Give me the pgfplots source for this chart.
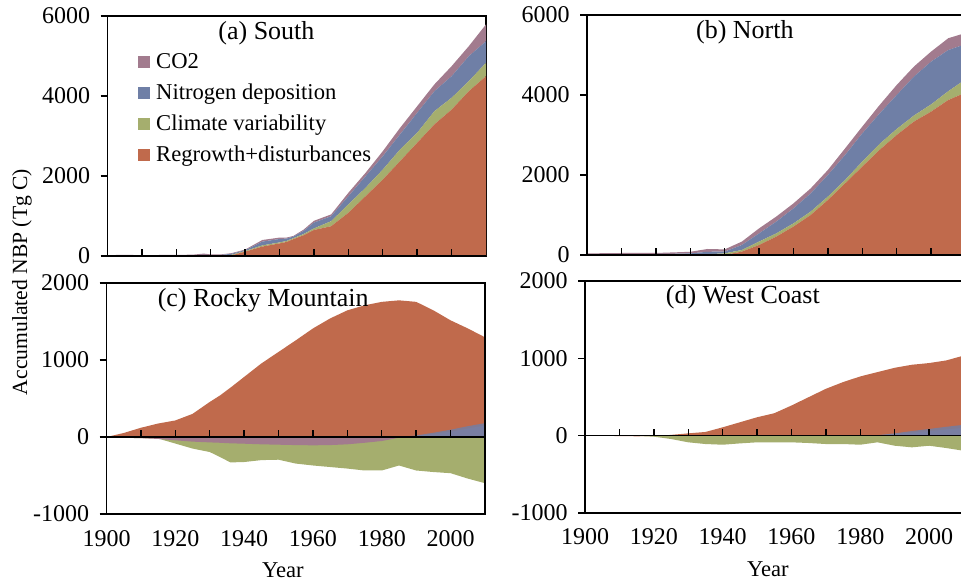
\documentclass[border=0pt]{standalone}
\usepackage{fontspec}
\setmainfont{Liberation Serif}
\usepackage{pgfplots}
\usepackage{pgfplotstable}
\pgfplotsset{compat=1.18}

\definecolor{cR}{RGB}{192,106,76}
\definecolor{cC}{RGB}{165,174,110}
\definecolor{cN}{RGB}{111,127,166}
\definecolor{cCO}{RGB}{162,123,142}

% components (Tg C): regrowth, climate, N deposition, CO2
\pgfplotstableread{
year R C N CO2
1900 0 5 5 10
1905 0 10 5 15
1910 0 5 5 10
1915 0 5 5 15
1920 0 10 5 10
1925 0 10 10 15
1928 0 15 15 30
1930 0 10 10 20
1933 0 10 15 15
1936 15 15 25 15
1940 110 15 20 15
1945 235 30 95 40
1950 315 25 85 35
1952 350 25 60 25
1954 420 25 40 15
1957 520 30 80 30
1960 650 40 145 45
1965 745 125 125 45
1970 1080 210 205 85
1975 1495 210 290 85
1980 1910 250 335 125
1985 2370 290 380 160
1990 2830 250 500 165
1995 3290 330 500 170
2000 3660 295 540 250
2005 4120 250 625 250
2010 4495 335 540 420
}\tabA

\pgfplotstableread{
year R C N CO2
1900 0 10 10 20
1910 0 10 10 30
1920 0 10 15 25
1925 0 10 20 35
1930 0 15 25 40
1935 0 20 60 70
1940 0 40 45 55
1945 85 40 125 85
1950 250 85 205 125
1955 460 80 295 125
1960 710 80 375 125
1965 1000 85 455 125
1970 1375 85 540 125
1975 1790 85 625 165
1980 2210 125 705 170
1985 2625 150 760 210
1990 3000 150 850 250
1995 3335 150 975 250
2000 3585 180 1070 250
2005 3875 220 1030 295
2010 4060 330 880 280
}\tabB

\pgfplotstableread{
year R C N CO2
1900 0 0 0 0
1905 52 -10 0 -10
1910 120 -15 0 -15
1915 175 -20 0 -25
1920 215 -85 0 -43
1925 300 -150 0 -60
1930 455 -195 0 -70
1933 540 -260 0 -75
1936 640 -330 0 -82
1940 780 -325 0 -87
1945 955 -300 0 -95
1950 1105 -295 0 -100
1955 1255 -345 0 -105
1960 1410 -370 0 -108
1965 1540 -390 0 -105
1970 1645 -410 0 -95
1975 1710 -435 0 -75
1980 1755 -435 0 -52
1985 1775 -370 0 -9
1990 1755 -435 20 15
1995 1645 -455 55 40
2000 1515 -470 95 70
2005 1410 -540 140 110
2010 1295 -600 180 150
}\tabC

\pgfplotstableread{
year R C N CO2
1900 0 0 0 0
1910 -5 0 0 0
1915 -8 -3 0 0
1920 -5 -13 0 0
1925 10 -43 0 0
1930 30 -86 0 0
1935 48 -108 0 0
1940 108 -117 0 0
1945 173 -100 0 0
1950 238 -86 0 0
1955 290 -86 0 0
1960 390 -86 0 0
1965 498 -95 0 0
1970 606 -108 0 0
1975 693 -108 0 0
1980 766 -117 0 0
1985 822 -86 5 5
1990 878 -130 30 20
1995 917 -151 60 40
2000 939 -130 87 60
2005 973 -160 115 80
2010 1035 -195 140 100
}\tabD

\tikzset{panelframe/.style={line width=0.7pt}}

\pgfplotsset{
  panel/.style={
    scale only axis, width=189.25pt,
    xmin=1900, xmax=2010,
    axis x line*=middle, axis y line*=left,
    axis line style={-, line width=0.7pt, black},
    axis on top, clip=false,
    hide obscured x ticks=false, hide obscured y ticks=false,
    tick align=center,
    major tick length=3.4pt, minor tick length=3.4pt,
    xtick={1900,1920,...,2000}, minor xtick={1910,1930,...,1990},
    every tick/.style={black, line width=0.7pt},
    every major x tick/.append style={yshift=1.7pt},
    every minor x tick/.append style={yshift=1.7pt},
    every major y tick/.append style={xshift=-1.7pt},
    /pgf/number format/assume math mode=true,
    /pgf/number format/1000 sep={},
    tick label style={font=\fontsize{12}{14}\selectfont},
    yticklabel style={xshift=-3pt},
    title style={font=\fontsize{13}{15}\selectfont},
  },
}

\begin{document}
\fontsize{11.3}{13.5}\selectfont
\begin{tikzpicture}
\path[use as bounding box] (0pt,0pt) rectangle (480.5pt,291.5pt);

\node[rotate=90, font=\fontsize{10.8}{13}\selectfont] at (11pt,150.5pt) {Accumulated NBP (Tg C)};

% (a) South
\begin{axis}[panel, at={(53.75pt,163.5pt)}, anchor=south west, height=120pt,
  ymin=0, ymax=6000, ytick={0,2000,4000,6000}, xticklabels={},
  stack plots=y, reverse legend,
  title={(a) South}, title style={at={(rel axis cs:0.42,0.93)}, anchor=center, yshift=-6pt},
  legend style={at={(rel axis cs:0.08,0.855)}, anchor=north west, draw=none,
    fill=none, inner sep=0pt, row sep=4pt, nodes={inner xsep=3pt, inner ysep=1pt}},
  legend cell align=left,
  legend image code/.code={\fill[#1] (0pt,-3pt) rectangle (6pt,3pt);},
]
\addplot[fill=cR, draw=none] table[x=year,y=R]{\tabA} \closedcycle;
\addlegendentry{Regrowth+disturbances}
\addplot[fill=cC, draw=none] table[x=year,y=C]{\tabA} \closedcycle;
\addlegendentry{Climate variability}
\addplot[fill=cN, draw=none] table[x=year,y=N]{\tabA} \closedcycle;
\addlegendentry{Nitrogen deposition}
\addplot[fill=cCO, draw=none] table[x=year,y=CO2]{\tabA} \closedcycle;
\addlegendentry{CO2}
\draw[panelframe] (rel axis cs:0,0) rectangle (rel axis cs:1,1);
\end{axis}

% (b) North
\begin{axis}[panel, at={(293.5pt,164pt)}, anchor=south west, height=120pt,
  ymin=0, ymax=6000, ytick={0,2000,4000,6000}, xticklabels={},
  stack plots=y,
  title={(b) North}, title style={at={(rel axis cs:0.417,0.93)}, anchor=center, yshift=-6pt},
]
\addplot[fill=cR, draw=none] table[x=year,y=R]{\tabB} \closedcycle;
\addplot[fill=cC, draw=none] table[x=year,y=C]{\tabB} \closedcycle;
\addplot[fill=cN, draw=none] table[x=year,y=N]{\tabB} \closedcycle;
\addplot[fill=cCO, draw=none] table[x=year,y=CO2]{\tabB} \closedcycle;
\draw[panelframe] (rel axis cs:0,0) rectangle (rel axis cs:1,1);
\end{axis}

% (c) Rocky Mountain
\begin{axis}[panel, at={(53.25pt,34.5pt)}, anchor=south west, height=115.5pt,
  ymin=-1000, ymax=2000, ytick={-1000,0,1000,2000},
  xticklabel style={yshift=-41pt},
  xlabel={Year}, xlabel style={at={(axis description cs:0.466,0)}, anchor=center, yshift=-28pt},
  title={(c) Rocky Mountain}, title style={at={(rel axis cs:0.414,0.926)}, anchor=center, yshift=-6pt},
]
\addplot[fill=cR, draw=none] table[x=year,y=R]{\tabC} \closedcycle;
\addplot[fill=cC, draw=none] table[x=year,y=C]{\tabC} \closedcycle;
\addplot[fill=cCO, draw=none] table[x=year,y=CO2]{\tabC} \closedcycle;
\addplot[fill=cN, fill opacity=0.8, draw=none] table[x=year,y=N]{\tabC} \closedcycle;
\draw[panelframe] (rel axis cs:0,0) rectangle (rel axis cs:1,1);
\end{axis}

% (d) West Coast
\begin{axis}[panel, at={(292.5pt,35pt)}, anchor=south west, height=116pt,
  ymin=-1000, ymax=2000, ytick={-1000,0,1000,2000},
  xticklabel style={yshift=-41pt},
  xlabel={Year}, xlabel style={at={(axis description cs:0.483,0)}, anchor=center, yshift=-28pt},
  title={(d) West Coast}, title style={at={(rel axis cs:0.417,0.93)}, anchor=center, yshift=-6pt},
]
\addplot[fill=cR, draw=none] table[x=year,y=R]{\tabD} \closedcycle;
\addplot[fill=cC, draw=none] table[x=year,y=C]{\tabD} \closedcycle;
\addplot[fill=cCO, draw=none] table[x=year,y=CO2]{\tabD} \closedcycle;
\addplot[fill=cN, fill opacity=0.8, draw=none] table[x=year,y=N]{\tabD} \closedcycle;
\draw[panelframe] (rel axis cs:0,0) rectangle (rel axis cs:1,1);
\end{axis}
\end{tikzpicture}
\end{document}
